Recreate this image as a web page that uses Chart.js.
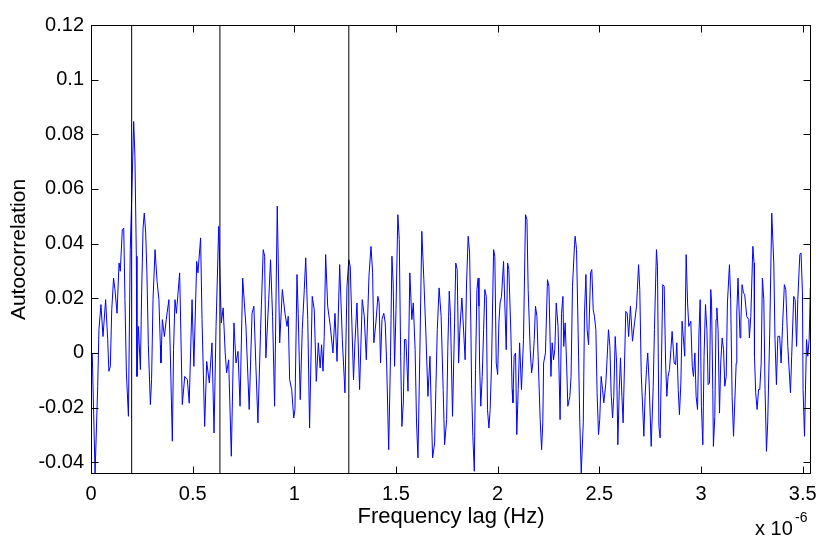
<!DOCTYPE html>
<html>
<head>
<meta charset="utf-8">
<script src="https://cdn.jsdelivr.net/npm/chart.js@4/dist/chart.umd.min.js"></script>
<style>
  html, body { margin: 0; padding: 0; background: #fff; }
</style>
</head>
<body>
<canvas id="acfChart" width="831" height="548"></canvas>
<script>
// frequency lag, in units of 1e-6 Hz
const lagX = [
  0.006,0.020,0.033,0.039,0.049,0.059,0.072,0.082,0.088,0.095,
  0.102,0.111,0.118,0.128,0.138,0.144,0.154,0.161,0.167,0.174,
  0.184,0.193,0.200,0.210,0.216,0.223,0.226,0.233,0.243,0.249,
  0.256,0.262,0.269,0.275,0.282,0.292,0.298,0.305,0.315,0.325,
  0.334,0.341,0.344,0.351,0.361,0.370,0.383,0.390,0.400,0.406,
  0.413,0.420,0.436,0.449,0.461,0.474,0.483,0.497,0.506,0.520,
  0.526,0.539,0.546,0.559,0.569,0.582,0.595,0.605,0.615,0.628,
  0.634,0.641,0.650,0.660,0.667,0.677,0.690,0.703,0.713,0.723,
  0.733,0.746,0.762,0.778,0.792,0.801,0.811,0.821,0.834,0.847,
  0.854,0.860,0.874,0.883,0.893,0.903,0.916,0.928,0.941,0.954,
  0.964,0.970,0.977,0.987,0.997,1.003,1.013,1.019,1.029,1.039,
  1.049,1.056,1.066,1.075,1.088,1.098,1.108,1.118,1.127,1.134,
  1.141,1.147,1.154,1.164,1.177,1.190,1.200,1.210,1.223,1.236,
  1.249,1.259,1.268,1.275,1.291,1.298,1.308,1.321,1.334,1.344,
  1.354,1.367,1.377,1.385,1.391,1.401,1.411,1.417,1.424,1.431,
  1.440,1.447,1.454,1.464,1.473,1.480,1.486,1.493,1.500,1.509,
  1.516,1.523,1.529,1.536,1.542,1.549,1.559,1.568,1.578,1.585,
  1.594,1.601,1.608,1.617,1.627,1.637,1.647,1.657,1.667,1.673,
  1.680,1.690,1.696,1.703,1.712,1.722,1.732,1.739,1.749,1.755,
  1.762,1.768,1.778,1.788,1.794,1.801,1.808,1.814,1.824,1.840,
  1.847,1.855,1.862,1.868,1.872,1.878,1.885,1.891,1.898,1.904,
  1.908,1.911,1.917,1.924,1.931,1.937,1.944,1.950,1.957,1.963,
  1.970,1.980,1.986,1.993,2.000,2.006,2.012,2.019,2.029,2.035,
  2.042,2.049,2.055,2.065,2.071,2.075,2.081,2.088,2.094,2.101,
  2.108,2.117,2.127,2.137,2.144,2.150,2.160,2.167,2.173,2.180,
  2.186,2.193,2.199,2.209,2.216,2.222,2.226,2.235,2.245,2.252,
  2.262,2.268,2.275,2.281,2.288,2.297,2.307,2.314,2.321,2.325,
  2.332,2.339,2.345,2.355,2.361,2.368,2.378,2.381,2.388,2.398,
  2.404,2.411,2.421,2.427,2.434,2.440,2.447,2.457,2.463,2.470,
  2.476,2.483,2.489,2.496,2.502,2.509,2.516,2.522,2.532,2.538,
  2.545,2.552,2.558,2.565,2.571,2.578,2.585,2.591,2.598,2.604,
  2.611,2.617,2.624,2.630,2.637,2.644,2.653,2.663,2.673,2.683,
  2.693,2.699,2.706,2.719,2.725,2.732,2.738,2.745,2.755,2.765,
  2.771,2.781,2.786,2.793,2.799,2.806,2.812,2.819,2.826,2.832,
  2.838,2.845,2.852,2.858,2.868,2.875,2.881,2.888,2.894,2.901,
  2.907,2.920,2.927,2.934,2.940,2.950,2.957,2.963,2.970,2.976,
  2.983,2.990,2.996,3.002,3.009,3.015,3.022,3.029,3.035,3.042,
  3.048,3.052,3.058,3.061,3.068,3.074,3.078,3.084,3.091,3.097,
  3.104,3.111,3.117,3.124,3.130,3.140,3.146,3.153,3.160,3.166,
  3.173,3.176,3.182,3.192,3.196,3.202,3.209,3.215,3.225,3.235,
  3.238,3.245,3.255,3.261,3.263,3.269,3.276,3.283,3.289,3.296,
  3.302,3.309,3.315,3.322,3.328,3.338,3.348,3.358,3.364,3.371,
  3.378,3.387,3.394,3.401,3.410,3.417,3.427,3.440,3.446,3.456,
  3.463,3.470,3.476,3.486,3.492,3.499,3.502,3.509,3.519,3.525,
  3.532,3.538,3.541
];

const acf = [
  0.0000,-0.0440,-0.0122,0.0085,0.0177,0.0060,0.0195,0.0049,-0.0067,-0.0049,
  0.0158,0.0274,0.0231,0.0145,0.0329,0.0299,0.0451,0.0457,0.0195,-0.0073,
  -0.0232,0.0378,0.0561,0.0847,0.0720,0.0354,-0.0086,0.0097,-0.0061,0.0220,
  0.0457,0.0512,0.0439,0.0293,0.0030,-0.0189,-0.0098,0.0195,0.0378,0.0262,
  0.0195,0.0030,-0.0037,0.0122,0.0060,0.0122,0.0195,0.0000,-0.0323,0.0012,
  0.0195,0.0145,0.0293,-0.0189,-0.0086,-0.0098,-0.0184,0.0195,-0.0049,0.0335,
  0.0293,0.0421,0.0122,-0.0269,-0.0031,-0.0110,0.0037,-0.0293,0.0097,0.0463,
  0.0293,0.0110,0.0165,0.0000,-0.0073,-0.0025,-0.0378,0.0110,-0.0037,0.0006,
  -0.0195,0.0274,0.0097,-0.0207,0.0145,0.0171,-0.0049,-0.0256,0.0085,0.0378,
  0.0354,-0.0018,0.0195,0.0341,0.0134,-0.0195,0.0537,0.0037,0.0232,0.0145,
  0.0097,0.0134,-0.0098,-0.0134,-0.0238,-0.0207,0.0287,0.0145,-0.0171,0.0085,
  0.0232,0.0348,0.0122,-0.0275,0.0207,0.0158,-0.0104,0.0037,-0.0055,0.0030,
  -0.0067,0.0060,0.0360,0.0171,0.0097,0.0000,0.0145,-0.0031,0.0323,0.0049,
  -0.0146,0.0244,0.0341,0.0317,-0.0098,0.0037,0.0183,-0.0134,0.0195,0.0134,
  -0.0025,0.0281,0.0390,0.0293,0.0037,0.0110,0.0207,0.0183,-0.0037,0.0122,
  0.0145,0.0110,-0.0037,-0.0354,-0.0012,0.0354,0.0256,-0.0049,0.0158,0.0506,
  0.0415,-0.0012,-0.0269,-0.0183,0.0049,0.0049,-0.0140,0.0293,0.0122,0.0183,
  0.0012,-0.0256,-0.0384,-0.0012,0.0445,0.0268,0.0073,-0.0159,-0.0012,-0.0195,
  -0.0384,-0.0329,-0.0134,0.0085,0.0238,0.0134,-0.0134,-0.0336,-0.0244,0.0024,
  0.0226,0.0134,-0.0232,0.0110,0.0329,0.0305,-0.0037,0.0085,0.0201,-0.0025,
  0.0256,0.0427,0.0366,0.0110,-0.0134,-0.0305,-0.0433,-0.0061,0.0232,0.0274,
  0.0171,-0.0037,-0.0195,-0.0086,0.0085,0.0232,0.0207,-0.0207,-0.0275,-0.0207,
  -0.0037,0.0378,0.0354,-0.0037,-0.0079,0.0110,0.0183,0.0207,0.0335,0.0183,
  0.0012,0.0329,0.0305,0.0073,-0.0134,-0.0183,-0.0012,0.0000,-0.0299,-0.0134,
  0.0037,-0.0134,0.0049,0.0506,0.0488,0.0232,0.0012,-0.0073,-0.0037,0.0049,
  0.0171,0.0134,-0.0012,-0.0244,-0.0354,-0.0256,-0.0037,0.0000,0.0268,0.0244,
  -0.0086,0.0037,-0.0025,0.0012,0.0183,0.0097,-0.0244,0.0145,0.0207,0.0024,
  0.0110,-0.0037,-0.0195,-0.0159,-0.0086,0.0244,0.0396,0.0427,0.0378,-0.0012,
  -0.0256,-0.0439,-0.0256,0.0146,0.0287,0.0085,0.0030,0.0293,0.0305,0.0158,
  0.0134,0.0085,-0.0146,-0.0299,-0.0244,-0.0086,-0.0134,-0.0183,-0.0110,-0.0025,
  0.0085,0.0024,-0.0146,-0.0238,-0.0159,0.0060,-0.0037,-0.0336,-0.0134,-0.0018,
  -0.0159,-0.0256,-0.0037,0.0152,0.0146,0.0060,0.0171,0.0043,0.0110,0.0171,
  0.0323,0.0232,-0.0073,-0.0305,-0.0159,-0.0061,0.0000,-0.0110,-0.0342,-0.0122,
  0.0085,0.0378,0.0317,-0.0269,-0.0311,-0.0012,0.0250,0.0244,-0.0037,-0.0159,
  -0.0086,-0.0061,0.0012,0.0079,-0.0037,-0.0043,0.0037,-0.0134,-0.0226,-0.0110,
  0.0116,-0.0012,0.0360,0.0183,0.0097,0.0116,-0.0049,-0.0086,0.0000,-0.0159,
  -0.0207,0.0073,0.0195,-0.0195,-0.0336,-0.0012,0.0177,0.0085,-0.0116,-0.0110,
  0.0232,0.0183,-0.0134,-0.0342,-0.0232,0.0122,0.0165,0.0085,-0.0220,-0.0037,
  0.0055,0.0012,-0.0122,-0.0086,0.0183,0.0323,0.0195,-0.0159,-0.0305,-0.0183,
  -0.0037,0.0146,0.0274,0.0055,0.0110,0.0250,0.0220,0.0213,0.0134,0.0122,
  0.0055,0.0134,0.0390,0.0329,-0.0012,-0.0146,-0.0207,-0.0134,-0.0134,-0.0037,
  0.0274,0.0195,-0.0134,-0.0360,-0.0256,0.0073,0.0512,0.0329,0.0049,-0.0116,
  0.0061,0.0061,-0.0037,0.0097,0.0250,0.0232,0.0024,-0.0146,-0.0012,0.0207,
  0.0195,0.0024,0.0195,0.0360,0.0366,0.0220,-0.0134,-0.0305,0.0049,-0.0012,
  0.0049,0.0238,0.0050
];

// vertical reference lines (same 1e-6 Hz units)
const markerLags = [0.2, 0.634, 1.268];

const xTickVals = [0, 0.5, 1, 1.5, 2, 2.5, 3, 3.5];
const xTickLabels = ['0', '0.5', '1', '1.5', '2', '2.5', '3', '3.5'];
const yTickVals = [-0.04, -0.02, 0, 0.02, 0.04, 0.06, 0.08, 0.1, 0.12];
const yTickLabels = ['-0.04', '-0.02', '0', '0.02', '0.04', '0.06', '0.08', '0.1', '0.12'];

const xMin = 0, xMax = 3.541;
const yMin = -0.0443, yMax = 0.12;

const FONT = "'Liberation Sans', Arial, Helvetica, sans-serif";

// matlab style box: full frame, ticks pointing inwards, exponent note
const matlabBox = {
    id: 'matlabBox',
    afterDraw(chart) {
        const { ctx, chartArea: a } = chart;
        const xs = chart.scales.x, ys = chart.scales.y;
        const L = Math.round(a.left) + 0.5, R = Math.round(a.right) - 0.5;
        const T = Math.round(a.top) + 0.5, B = Math.round(a.bottom) - 0.5;
        const tick = 7;

        ctx.save();
        ctx.strokeStyle = '#000';
        ctx.lineWidth = 1;
        ctx.strokeRect(L, T, R - L, B - T);

        ctx.beginPath();
        xTickVals.forEach(v => {
            const px = Math.round(xs.getPixelForValue(v)) + 0.5;
            ctx.moveTo(px, B); ctx.lineTo(px, B - tick);
            ctx.moveTo(px, T); ctx.lineTo(px, T + tick);
        });
        yTickVals.forEach(v => {
            const py = Math.round(ys.getPixelForValue(v)) + 0.5;
            ctx.moveTo(L, py); ctx.lineTo(L + tick, py);
            ctx.moveTo(R, py); ctx.lineTo(R - tick, py);
        });
        ctx.stroke();

        ctx.fillStyle = '#000';
        ctx.textAlign = 'left';
        ctx.textBaseline = 'alphabetic';
        ctx.font = `20px ${FONT}`;
        ctx.fillText('x 10', a.right - 56, 535);
        ctx.font = `14px ${FONT}`;
        ctx.fillText('-6', a.right - 16, 522);
        ctx.restore();
    }
};

new Chart(document.getElementById('acfChart'), {
    type: 'scatter',
    data: {
        datasets: [
            ...markerLags.map(m => ({
                data: [{ x: m, y: yMin }, { x: m, y: yMax }],
                showLine: true,
                borderColor: '#000',
                borderWidth: 1,
                pointRadius: 0,
                order: 0
            })),
            {
                label: 'Autocorrelation',
                data: lagX.map((v, i) => ({ x: v, y: acf[i] })),
                showLine: true,
                borderColor: '#0000ff',
                borderWidth: 1,
                pointRadius: 0,
                tension: 0,
                order: 1
            }
        ]
    },
    options: {
        responsive: false,
        animation: false,
        devicePixelRatio: 1,
        layout: { padding: { left: 0, right: 20, top: 25, bottom: 0 } },
        plugins: {
            legend: { display: false },
            tooltip: { enabled: false }
        },
        scales: {
            x: {
                type: 'linear',
                min: xMin,
                max: xMax,
                grid: { display: false, drawTicks: false },
                border: { display: false },
                afterBuildTicks: s => { s.ticks = xTickVals.map(v => ({ value: v })); },
                afterFit: s => { s.height = 74; },
                ticks: {
                    callback: (v, i) => xTickLabels[i],
                    color: '#000',
                    font: { family: FONT, size: 20 },
                    padding: 8,
                    maxRotation: 0,
                    autoSkip: false
                },
                title: {
                    display: true,
                    text: 'Frequency lag (Hz)',
                    color: '#000',
                    font: { family: FONT, size: 22 },
                    padding: { top: 0, bottom: 18 }
                }
            },
            y: {
                type: 'linear',
                min: yMin,
                max: yMax,
                grid: { display: false, drawTicks: false },
                border: { display: false },
                afterBuildTicks: s => { s.ticks = yTickVals.map(v => ({ value: v })); },
                afterFit: s => { s.width = 91; },
                ticks: {
                    callback: (v, i) => yTickLabels[i],
                    color: '#000',
                    font: { family: FONT, size: 20 },
                    padding: 7,
                    autoSkip: false
                },
                title: {
                    display: true,
                    text: 'Autocorrelation',
                    color: '#000',
                    font: { family: FONT, size: 21 },
                    padding: { top: 7, bottom: 0 }
                }
            }
        }
    },
    plugins: [matlabBox]
});
</script>
</body>
</html>
